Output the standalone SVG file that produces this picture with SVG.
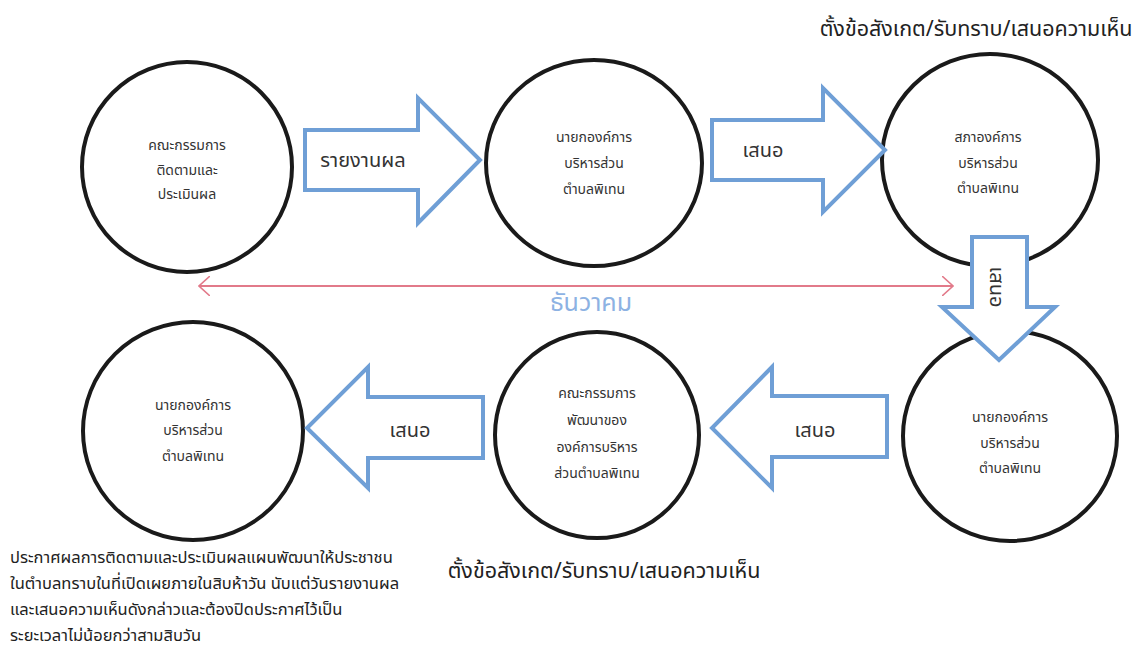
<svg xmlns="http://www.w3.org/2000/svg" width="1134" height="652" viewBox="0 0 1134 652">
<defs>
<style>
.node{fill:#fff;stroke:#1a1a1a;stroke-width:4}
.arr{fill:#fff;stroke:#6f9fd6;stroke-width:4;stroke-linejoin:miter}
.t{font-family:"Noto Sans Thai","Noto Sans","DejaVu Sans",sans-serif;fill:#333;text-anchor:middle;dominant-baseline:central}
.nt{font-size:14px}
.at{font-size:20px}
.lbl{font-family:"Noto Sans Thai","Noto Sans","DejaVu Sans",sans-serif;fill:#222;font-size:21.5px}
.para{font-family:"Noto Sans Thai","Noto Sans","DejaVu Sans",sans-serif;fill:#222;font-size:16.5px}
</style>
<marker id="pk" viewBox="0 0 12 20" refX="11" refY="10" markerWidth="12" markerHeight="20" markerUnits="userSpaceOnUse" orient="auto-start-reverse">
<path d="M0,0 L11,10 L0,20" fill="none" stroke="#e27a8a" stroke-width="1.6"/>
</marker>
</defs>
<rect width="1134" height="652" fill="#fff"/>

<g id="node-committee-monitor">
<ellipse class="node" cx="187" cy="167" rx="105" ry="105"/>
<text class="t nt" x="187" y="145">คณะกรรมการ</text>
<text class="t nt" x="187" y="170">ติดตามและ</text>
<text class="t nt" x="187" y="194">ประเมินผล</text>
</g>
<g id="node-mayor-1">
<ellipse class="node" cx="594" cy="163" rx="108" ry="103"/>
<text class="t nt" x="594" y="137">นายกองค์การ</text>
<text class="t nt" x="594" y="163">บริหารส่วน</text>
<text class="t nt" x="594" y="189">ตำบลพิเทน</text>
</g>
<g id="node-council">
<ellipse class="node" cx="990" cy="160" rx="108" ry="106"/>
<text class="t nt" x="988" y="137">สภาองค์การ</text>
<text class="t nt" x="988" y="163">บริหารส่วน</text>
<text class="t nt" x="988" y="188">ตำบลพิเทน</text>
</g>
<g id="node-mayor-2">
<ellipse class="node" cx="1010" cy="436" rx="107" ry="105"/>
<text class="t nt" x="1010" y="417">นายกองค์การ</text>
<text class="t nt" x="1010" y="443">บริหารส่วน</text>
<text class="t nt" x="1010" y="468">ตำบลพิเทน</text>
</g>
<g id="node-committee-dev">
<ellipse class="node" cx="597" cy="435" rx="102" ry="103"/>
<text class="t nt" x="597" y="393">คณะกรรมการ</text>
<text class="t nt" x="597" y="420">พัฒนาของ</text>
<text class="t nt" x="597" y="447">องค์การบริหาร</text>
<text class="t nt" x="597" y="473">ส่วนตำบลพิเทน</text>
</g>
<g id="node-mayor-3">
<ellipse class="node" cx="193" cy="431" rx="110" ry="109"/>
<text class="t nt" x="193" y="405">นายกองค์การ</text>
<text class="t nt" x="193" y="430">บริหารส่วน</text>
<text class="t nt" x="193" y="456">ตำบลพิเทน</text>
</g>

<g id="connectors">
<g id="arrow-report">
<path class="arr" d="M305,130 H418 V98 L480,160 L418,223 V190 H305 Z"/>
<text class="t at" x="363" y="161">รายงานผล</text>
</g>
<g id="arrow-propose-1">
<path class="arr" d="M712,120 H823 V88 L885,150 L823,212 V180 H712 Z"/>
<text class="t at" x="763" y="151">เสนอ</text>
</g>
<g id="arrow-propose-2">
<path class="arr" d="M972,237 H1027 V307 H1055 L999,360 L942,307 H972 Z"/>
<text class="t at" transform="translate(996,287) rotate(90)" x="0" y="0">เสนอ</text>
</g>
<g id="arrow-propose-3">
<path class="arr" d="M887,396 H772 V367 L712,428 L772,488 V457 H887 Z"/>
<text class="t at" x="815" y="431">เสนอ</text>
</g>
<g id="arrow-propose-4">
<path class="arr" d="M483,397 H368 V367 L307,428 L368,488 V458 H483 Z"/>
<text class="t at" x="410" y="431">เสนอ</text>
</g>
<g id="timeline">
<line x1="199" y1="286" x2="953" y2="286" stroke="#e27a8a" stroke-width="2" marker-start="url(#pk)" marker-end="url(#pk)"/>
<text x="591" y="303" font-family="'Noto Sans Thai','Noto Sans','DejaVu Sans',sans-serif" font-size="25" fill="#8db2e3" text-anchor="middle" dominant-baseline="central">ธันวาคม</text>
</g>
</g>

<text class="lbl" x="976" y="36" text-anchor="middle">ตั้งข้อสังเกต/รับทราบ/เสนอความเห็น</text>
<text class="lbl" x="604" y="578" text-anchor="middle">ตั้งข้อสังเกต/รับทราบ/เสนอความเห็น</text>
<g class="para">
<text x="10" y="563">ประกาศผลการติดตามและประเมินผลแผนพัฒนาให้ประชาชน</text>
<text x="10" y="589">ในตำบลทราบในที่เปิดเผยภายในสิบห้าวัน นับแต่วันรายงานผล</text>
<text x="10" y="615">และเสนอความเห็นดังกล่าวและต้องปิดประกาศไว้เป็น</text>
<text x="10" y="641">ระยะเวลาไม่น้อยกว่าสามสิบวัน</text>
</g>
</svg>
